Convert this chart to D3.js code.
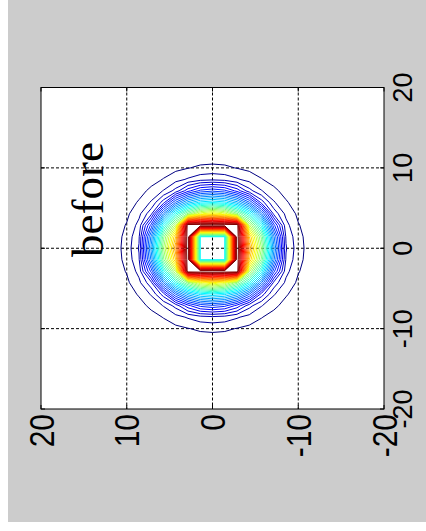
<!DOCTYPE html>
<html>
<head>
<meta charset="utf-8">
<script src="https://cdn.jsdelivr.net/npm/d3@7"></script>
<style>
  body { margin: 0; background: #fff; }
  svg { display: block; }
</style>
</head>
<body>
<div class="chart"></div>
<script>
// tick labels as they read on the (rotated) figure
const bottomTicks = [20, 10, 0, -10, -20];
const rightTicks = [20, 10, 0, -10, -20];
const title = "before";

// field profile, value (0..1 colour range) against
// distance from the centre along the picture's horizontal and vertical
const profileValue = [1.02, 0.875, 0.75, 0.625, 0.5, 0.375, 0.25, 0.1, 0.064, 0.0385, 0.0128, 0];
const radiusH = [2.86, 3.7, 4.15, 4.95, 5.9, 6.6, 7.3, 8.2, 8.6, 9.3, 10.5, 11.5];
const radiusV = [2.86, 3.35, 3.8, 4.3, 5.0, 5.65, 6.6, 7.9, 8.4, 9.1, 10.3, 11.3];
// the 3 x 3 samples next to the centre, [horizontal step][vertical step]
const innerBlock = [
  [0.37, 0.37, 1.02],
  [0.37, 0.37, 1.02],
  [1.02, 1.02, 1.02]
];
const gridN = 29;     // samples across [-20, 20]
const nLevels = 39;

const W = 426, H = 531;
const box = {left: 41, right: 384, top: 87.5, bottom: 409};

const svg = d3.select(".chart").append("svg")
    .attr("width", W)
    .attr("height", H);

svg.append("rect")
    .attr("x", 8).attr("y", 0)
    .attr("width", W - 8).attr("height", 522)
    .attr("fill", "#cccccc");

svg.append("rect")
    .attr("x", box.left).attr("y", box.top)
    .attr("width", box.right - box.left).attr("height", box.bottom - box.top)
    .attr("fill", "#fff");

const hScale = d3.scaleLinear().domain([20, -20]).range([box.left, box.right]);
const vScale = d3.scaleLinear().domain([20, -20]).range([box.top, box.bottom]);

// grid lines
const grid = svg.append("g")
    .attr("stroke", "#000")
    .attr("stroke-width", 1)
    .attr("stroke-dasharray", "3,2");
grid.selectAll(".gv")
    .data(bottomTicks.slice(1, -1))
    .join("line")
    .attr("x1", d => hScale(d)).attr("x2", d => hScale(d))
    .attr("y1", box.top).attr("y2", box.bottom);
grid.selectAll(".gh")
    .data(rightTicks.slice(1, -1))
    .join("line")
    .attr("y1", d => vScale(d)).attr("y2", d => vScale(d))
    .attr("x1", box.left).attr("x2", box.right);

// sample table for d3.contours
const step = 40 / (gridN - 1);
const mid = (gridN - 1) / 2;
const hProf = d3.scaleLinear().domain(radiusH).range(profileValue).clamp(true);
const vProf = d3.scaleLinear().domain(radiusV).range(profileValue).clamp(true);
const sample = (i, j) => {
  if (i <= 2 && j <= 2) return innerBlock[i][j];
  const x = i * step, y = j * step, r = Math.hypot(x, y);
  const w = (x * x) / (r * r);
  return w * hProf(r) + (1 - w) * vProf(r);
};
const values = new Array(gridN * gridN);
for (let r = 0; r < gridN; r++) {
  for (let c = 0; c < gridN; c++) {
    values[r * gridN + c] = sample(Math.abs(c - mid), Math.abs(r - mid));
  }
}
const levels = d3.range(nLevels).map(k => (k + 0.5) / nLevels);

const toData = g => -20 + (g - 0.5) * step;
const path = d3.geoPath(d3.geoTransform({
  point: function(x, y) { this.stream.point(hScale(toData(x)), vScale(toData(y))); }
}));

const jet = t => {
  const c = v => Math.max(0, Math.min(1, v));
  return d3.rgb(255 * c(1.5 - Math.abs(4 * t - 3)),
                255 * c(1.5 - Math.abs(4 * t - 2)),
                255 * c(1.5 - Math.abs(4 * t - 1))).toString();
};
const tScale = d3.scaleLinear().domain(d3.extent(levels)).range([0, 1]);

const contours = d3.contours().size([gridN, gridN]).thresholds(levels)(values);
svg.append("g")
    .attr("fill", "none")
    .attr("stroke-width", 1)
  .selectAll("path")
  .data(contours)
  .join("path")
    .attr("stroke", d => jet(tScale(d.value)))
    .attr("d", path);

// axes box and ticks
svg.append("rect")
    .attr("x", box.left).attr("y", box.top)
    .attr("width", box.right - box.left).attr("height", box.bottom - box.top)
    .attr("fill", "none").attr("stroke", "#000").attr("stroke-width", 1);

const ticks = svg.append("g").attr("stroke", "#000").attr("stroke-width", 1);
bottomTicks.forEach(d => {
  ticks.append("line").attr("x1", hScale(d)).attr("x2", hScale(d)).attr("y1", box.top).attr("y2", box.top + 4);
  ticks.append("line").attr("x1", hScale(d)).attr("x2", hScale(d)).attr("y1", box.bottom).attr("y2", box.bottom - 4);
});
rightTicks.forEach(d => {
  ticks.append("line").attr("y1", vScale(d)).attr("y2", vScale(d)).attr("x1", box.left).attr("x2", box.left + 4);
  ticks.append("line").attr("y1", vScale(d)).attr("y2", vScale(d)).attr("x1", box.right).attr("x2", box.right - 4);
});

// tick labels, rotated with the figure
svg.append("g")
    .attr("font-family", "Liberation Sans, Arial, sans-serif")
    .attr("font-size", 30)
  .selectAll("text")
  .data(bottomTicks)
  .join("text")
    .attr("transform", d => `translate(${hScale(d)},414) rotate(-90) scale(1,1.17)`)
    .attr("text-anchor", "end")
    .attr("dy", "0.36em")
    .text(d => d);

svg.append("g")
    .attr("font-family", "Liberation Sans, Arial, sans-serif")
    .attr("font-size", 27)
  .selectAll("text")
  .data(rightTicks)
  .join("text")
    .attr("transform", d => `translate(412,${vScale(d)}) rotate(-90)`)
    .attr("text-anchor", "middle")
    .text(d => d);

svg.append("text")
    .attr("transform", "translate(103,257) rotate(-90)")
    .attr("font-family", "Liberation Serif, Times New Roman, serif")
    .attr("font-size", 45)
    .text(title);
</script>
</body>
</html>
